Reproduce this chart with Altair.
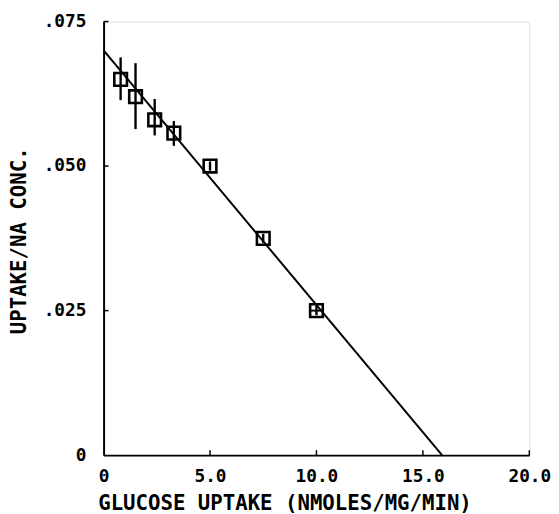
import altair as alt
import pandas as pd

# Data
x_vals = [0.8, 1.5, 2.4, 3.3, 5.0, 7.5, 10.0]
y_vals = [0.065, 0.062, 0.058, 0.0557, 0.050, 0.0375, 0.025]
y_lo = [0.0614, 0.0564, 0.0553, 0.0535, 0.0492, 0.0367, 0.0242]
y_hi = [0.0688, 0.0678, 0.0616, 0.0578, 0.0508, 0.0383, 0.0258]
# horizontal error (only visible on the last point)
x_err_lo = [0.8, 1.5, 2.4, 3.3, 5.0, 7.5, 9.7]
x_err_hi = [0.8, 1.5, 2.4, 3.3, 5.0, 7.5, 10.3]

# fitted line end points
line_x = [0.0, 15.9]
line_y = [0.0700, 0.0]

x_ticks = [0, 5, 10, 15, 20]
y_ticks = [0, 0.025, 0.05, 0.075]

FONT = "DejaVu Sans Mono"

pts = pd.DataFrame({"x": x_vals, "y": y_vals, "ylo": y_lo, "yhi": y_hi,
                    "xlo": x_err_lo, "xhi": x_err_hi})
line_df = pd.DataFrame({"x": line_x, "y": line_y})
xt_df = pd.DataFrame({"t": x_ticks[1:]})
yt_df = pd.DataFrame({"t": y_ticks[1:]})

xscale = alt.Scale(domain=[0, 20], nice=False, zero=False)
yscale = alt.Scale(domain=[0, 0.075], nice=False, zero=False)

xaxis = alt.Axis(
    values=x_ticks,
    title="GLUCOSE UPTAKE (NMOLES/MG/MIN)",
    labelExpr="datum.value == 0 ? '0' : format(datum.value, '.1f')",
    ticks=False, grid=False,
    domainColor="black", domainWidth=2,
    labelFont=FONT, labelFontSize=18, labelFontWeight="bold", labelColor="black",
    labelPadding=13, labelFlush=False,
    titleFont=FONT, titleFontSize=21, titleFontWeight="bold", titleColor="black",
    titleAnchor="start", titleAlign="left", titleX=-6, titleY=55,
    titleBaseline="alphabetic",
)
yaxis = alt.Axis(
    values=y_ticks,
    title="UPTAKE/NA CONC.",
    labelExpr="datum.value == 0 ? '0' : replace(format(datum.value, '.3f'), '0.', '.')",
    ticks=False, grid=False,
    domainColor="black", domainWidth=2,
    labelFont=FONT, labelFontSize=18, labelFontWeight="bold", labelColor="black",
    labelPadding=18, labelFlush=False,
    titleFont=FONT, titleFontSize=21, titleFontWeight="bold", titleColor="black",
    titleAngle=270, titleAlign="center", titleBaseline="alphabetic",
    titleX=-79, titleY=222,
)

base_x = alt.X("x:Q", scale=xscale, axis=xaxis)
base_y = alt.Y("y:Q", scale=yscale, axis=yaxis)

fit = alt.Chart(line_df).mark_line(color="black", strokeWidth=2).encode(
    x=base_x, y=base_y
)

err_v = alt.Chart(pts).mark_rule(color="black", strokeWidth=2.4).encode(
    x=alt.X("x:Q", scale=xscale), y=alt.Y("ylo:Q", scale=yscale), y2="yhi:Q"
)
err_h = alt.Chart(pts).mark_rule(color="black", strokeWidth=2).encode(
    x=alt.X("xlo:Q", scale=xscale), x2="xhi:Q", y=alt.Y("y:Q", scale=yscale)
)
squares = alt.Chart(pts).mark_point(
    shape="square", size=165, filled=False, color="black", strokeWidth=2.6, opacity=1
).encode(x=alt.X("x:Q", scale=xscale), y=alt.Y("y:Q", scale=yscale))

xt = alt.Chart(xt_df).mark_rule(color="black", strokeWidth=1.5).encode(
    x=alt.X("t:Q", scale=xscale), y=alt.value(440), y2=alt.value(435)
)
yt = alt.Chart(yt_df).mark_rule(color="black", strokeWidth=1.5).encode(
    y=alt.Y("t:Q", scale=yscale), x=alt.value(0), x2=alt.value(5)
)

chart = alt.layer(fit, err_v, err_h, squares, xt, yt).properties(
    width=432, height=440,
    autosize=alt.AutoSizeParams(type="none"),
    padding={"left": 97, "top": 10, "right": 22, "bottom": 56},
).configure_view(stroke=None).configure(background="white")

chart.save("out.html", embed_options={"renderer": "svg", "actions": False})
